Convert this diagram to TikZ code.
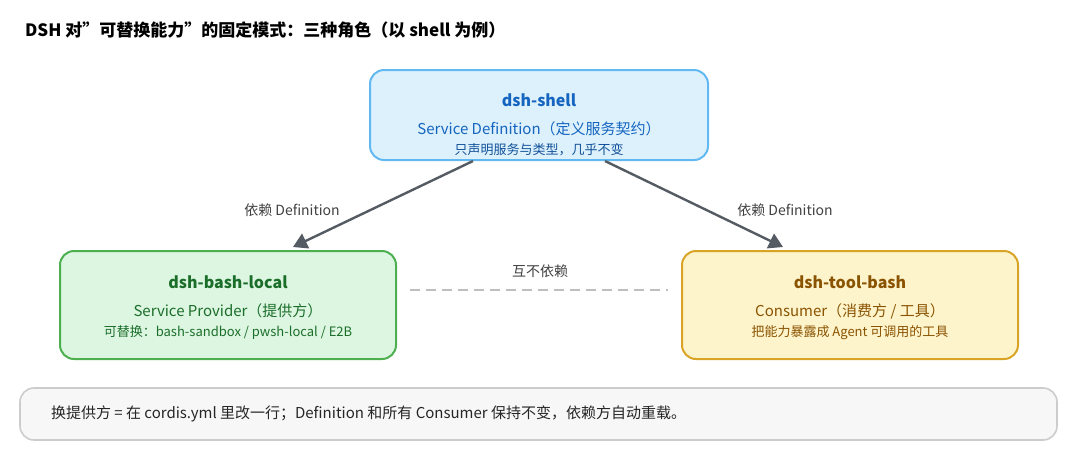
\documentclass[tikz,border=0pt]{standalone}
\usepackage{fontspec}
\setmainfont{Noto Sans CJK SC}
\usetikzlibrary{arrows.meta}
\definecolor{blueFill}{HTML}{DDF1FD}
\definecolor{blueLine}{HTML}{62B8F0}
\definecolor{blueText}{HTML}{1565C0}
\definecolor{greenFill}{HTML}{DDF6E1}
\definecolor{greenLine}{HTML}{4CAF50}
\definecolor{greenText}{HTML}{1B6E2A}
\definecolor{yellowFill}{HTML}{FEF4CC}
\definecolor{yellowLine}{HTML}{D9A426}
\definecolor{yellowText}{HTML}{8A5300}
\definecolor{arrowGray}{HTML}{555B63}
\tikzset{
	role/.style={draw, line width=1pt, rounded corners=7pt},
	dep/.style={draw=arrowGray, line width=1.2pt, -{Triangle[length=7pt,width=8pt]}},
	lbl/.style={font=\fontsize{7}{8}\selectfont, text=black!75},
}
\begin{document}
\begin{tikzpicture}[x=0.5pt,y=-0.5pt]

% canvas %{{{2

	\useasboundingbox (0,0) rectangle (1080,452);

% title %{{{2

	\node[anchor=west, font=\fontsize{8.5}{10}\selectfont\bfseries] (title) at (18,30)
		{DSH 对"可替换能力"的固定模式：三种角色（以 shell 为例）};

% boxes %{{{2

	\draw[role, draw=blueLine, fill=blueFill] (370,70) rectangle (708,160);
	\coordinate (shell) at (539,115);
	\node[text=blueText, font=\fontsize{8}{9}\selectfont\bfseries] (shellT) at (539,100) {dsh-shell};
	\node[text=blueText, font=\fontsize{7.5}{9}\selectfont] (shellR) at (539,129) {Service Definition（定义服务契约）};
	\node[text=blueText!80!black, font=\fontsize{6.5}{8}\selectfont] (shellD) at (539,150) {只声明服务与类型，几乎不变};

	\draw[role, draw=greenLine, fill=greenFill] (60,251) rectangle (396,359);
	\node[text=greenText, font=\fontsize{8}{9}\selectfont\bfseries] (localT) at (228,282) {dsh-bash-local};
	\node[text=greenText, font=\fontsize{7.5}{9}\selectfont] (localR) at (228,311) {Service Provider（提供方）};
	\node[text=greenText, font=\fontsize{6.5}{8}\selectfont] (localD) at (228,333) {可替换：bash-sandbox / pwsh-local / E2B};

	\draw[role, draw=yellowLine, fill=yellowFill] (682,251) rectangle (1018,359);
	\node[text=yellowText, font=\fontsize{8}{9}\selectfont\bfseries] (toolT) at (850,282) {dsh-tool-bash};
	\node[text=yellowText, font=\fontsize{7.5}{9}\selectfont] (toolR) at (850,311) {Consumer（消费方 / 工具）};
	\node[text=yellowText, font=\fontsize{6.5}{8}\selectfont] (toolD) at (850,333) {把能力暴露成 Agent 可调用的工具};

% connectors %{{{2

	\coordinate (shellL) at (473,161);
	\coordinate (shellR2) at (605,161);
	\coordinate (localTop) at (293,247);
	\coordinate (toolTop) at (783,247);
	\draw[dep] (shellL) -- (localTop);
	\draw[dep] (shellR2) -- (toolTop);
	\node[lbl] (depL) at (292,210) {依赖 Definition};
	\node[lbl] (depR) at (785,210) {依赖 Definition};

	\coordinate (dashL) at (410,290);
	\coordinate (dashR) at (668,290);
	\draw[black!25, line width=1pt, dash pattern=on 5pt off 3pt] (dashL) -- (dashR);
	\node[lbl] (indep) at (540,271) {互不依赖};

% note %{{{2

	\draw[line width=0.8pt, draw=black!20, fill=black!3, rounded corners=7pt] (20,388) rectangle (1057,440);
	\node[anchor=west, font=\fontsize{7.5}{9}\selectfont, text=black!85] (note) at (44,414)
		{换提供方 = 在 cordis.yml 里改一行；Definition 和所有 Consumer 保持不变，依赖方自动重载。};

% closing %{{{2

\end{tikzpicture}
\end{document}
